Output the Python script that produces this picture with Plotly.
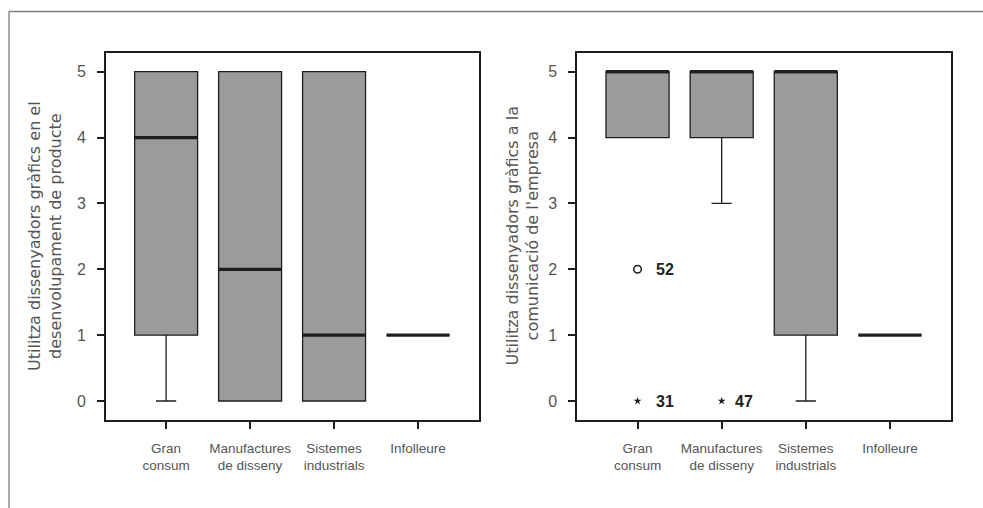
import plotly.graph_objects as go

# ---- data -----------------------------------------------------------------
categories = ["Gran<br>consum", "Manufactures<br>de disseny",
              "Sistemes<br>industrials", "Infolleure"]

# Utilitza dissenyadors gràfics en el desenvolupament de producte
prod_q1 = [1, 0, 0, 1]
prod_median = [4, 2, 1, 1]
prod_q3 = [5, 5, 5, 1]
prod_lower = [0, 0, 0, 1]
prod_upper = [5, 5, 5, 1]

# Utilitza dissenyadors gràfics a la comunicació de l'empresa
com_q1 = [4, 4, 1, 1]
com_median = [5, 5, 5, 1]
com_q3 = [5, 5, 5, 1]
com_lower = [4, 3, 0, 1]
com_upper = [5, 5, 5, 1]

# outliers (o) and extreme values (*) of the communication panel
com_outlier_cat = [0]
com_outlier_val = [2]
com_outlier_id = ["52"]
com_extreme_cat = [0, 1]
com_extreme_val = [0, 0]
com_extreme_id = ["31", "47"]

y_ticks = [0, 1, 2, 3, 4, 5]

# ---- styling ----------------------------------------------------------------
W, H = 983, 508
BOX_W = 0.75
FILL = "#9b9b9b"
INK = "#1e1e1e"
TEXT = "#555555"
TICK_FONT = dict(family="Liberation Sans, Arial, sans-serif", size=16, color=TEXT)
CAT_FONT = dict(family="Liberation Sans, Arial, sans-serif", size=13.5, color=TEXT)
TITLE_FONT = dict(family="DejaVu Sans, sans-serif", size=16, color=TEXT)
ID_FONT = dict(family="Liberation Sans, Arial, sans-serif", size=16, color="#222222",
               weight="bold")


def px_x(p):
    return p / W


def px_y(p):
    return 1 - p / H


positions = list(range(len(categories)))


def box_trace(q1, med, q3, lo, hi, xa, ya):
    return go.Box(
        x=positions, q1=q1, median=med, q3=q3,
        lowerfence=lo, upperfence=hi,
        width=BOX_W, whiskerwidth=0.32,
        fillcolor=FILL, line=dict(color=INK, width=1.3),
        boxpoints=False, hoverinfo="skip", showlegend=False,
        xaxis=xa, yaxis=ya,
    )


def median_trace(med, xa, ya):
    xs, ys = [], []
    for pos, m in zip(positions, med):
        xs += [pos - BOX_W / 2, pos + BOX_W / 2, None]
        ys += [m, m, None]
    return go.Scatter(x=xs, y=ys, mode="lines",
                      line=dict(color=INK, width=3.2),
                      hoverinfo="skip", showlegend=False,
                      xaxis=xa, yaxis=ya)


fig = go.Figure()
fig.add_trace(box_trace(prod_q1, prod_median, prod_q3, prod_lower, prod_upper, "x", "y"))
fig.add_trace(median_trace(prod_median, "x", "y"))
fig.add_trace(box_trace(com_q1, com_median, com_q3, com_lower, com_upper, "x2", "y2"))
fig.add_trace(median_trace(com_median, "x2", "y2"))

fig.add_trace(go.Scatter(
    x=com_outlier_cat, y=com_outlier_val, mode="markers",
    marker=dict(symbol="circle-open", size=7.5, color=INK, line=dict(width=1.5)),
    hoverinfo="skip", showlegend=False, xaxis="x2", yaxis="y2"))
fig.add_trace(go.Scatter(
    x=com_extreme_cat, y=com_extreme_val, mode="markers",
    marker=dict(symbol="star", size=6, color=INK, line=dict(width=0)),
    hoverinfo="skip", showlegend=False, xaxis="x2", yaxis="y2"))

# case numbers beside the outlying points
label_shift = {"52": 16, "31": 16, "47": 11}
annotations = []
for cat, val, ident in zip(com_outlier_cat + com_extreme_cat,
                           com_outlier_val + com_extreme_val,
                           com_outlier_id + com_extreme_id):
    annotations.append(dict(
        x=cat, y=val, xref="x2", yref="y2", text=ident, showarrow=False,
        xanchor="left", yanchor="middle", xshift=label_shift[ident],
        font=ID_FONT))

# rotated axis titles
annotations.append(dict(
    x=px_x(45.5), y=px_y(236.4), xref="paper", yref="paper",
    text="Utilitza dissenyadors gràfics en el<br>desenvolupament de producte",
    textangle=-90, showarrow=False, xanchor="center", yanchor="middle",
    font=TITLE_FONT))
annotations.append(dict(
    x=px_x(523), y=px_y(236.4), xref="paper", yref="paper",
    text="Utilitza dissenyadors gràfics a la<br>comunicació de l'empresa",
    textangle=-90, showarrow=False, xanchor="center", yanchor="middle",
    font=TITLE_FONT))

x_common = dict(
    range=[-0.716, 3.726], tickmode="array", tickvals=positions, ticktext=categories,
    ticks="outside", ticklen=7, tickwidth=2, tickcolor=INK,
    showline=True, linewidth=2, linecolor=INK, mirror=True,
    showgrid=False, zeroline=False, tickfont=CAT_FONT, ticklabelstandoff=8,
    fixedrange=True,
)
y_common = dict(
    range=[-0.284, 5.284], tickmode="array", tickvals=y_ticks,
    ticks="outside", ticklen=7, tickwidth=2, tickcolor=INK,
    showline=True, linewidth=2, linecolor=INK, mirror=True,
    showgrid=False, zeroline=False, tickfont=TICK_FONT, ticklabelstandoff=8,
    fixedrange=True,
)

fig.update_layout(
    width=W, height=H,
    margin=dict(l=0, r=0, t=0, b=0),
    paper_bgcolor="white", plot_bgcolor="white",
    boxmode="overlay", boxgap=0,
    xaxis=dict(domain=[px_x(106), px_x(479)], anchor="y", **x_common),
    yaxis=dict(domain=[px_y(419.7), px_y(53)], anchor="x", **y_common),
    xaxis2=dict(domain=[px_x(577.3), px_x(951)], anchor="y2", **x_common),
    yaxis2=dict(domain=[px_y(419.7), px_y(53)], anchor="x2", **y_common),
    annotations=annotations,
    shapes=[
        dict(type="line", xref="paper", yref="paper",
             x0=px_x(9), y0=px_y(11.5), x1=px_x(9), y1=0,
             line=dict(color="#7f7f7f", width=1.3)),
        dict(type="line", xref="paper", yref="paper",
             x0=px_x(9), y0=px_y(11.5), x1=1, y1=px_y(11.5),
             line=dict(color="#7f7f7f", width=1.3)),
    ],
)

fig.write_html("out.html")
